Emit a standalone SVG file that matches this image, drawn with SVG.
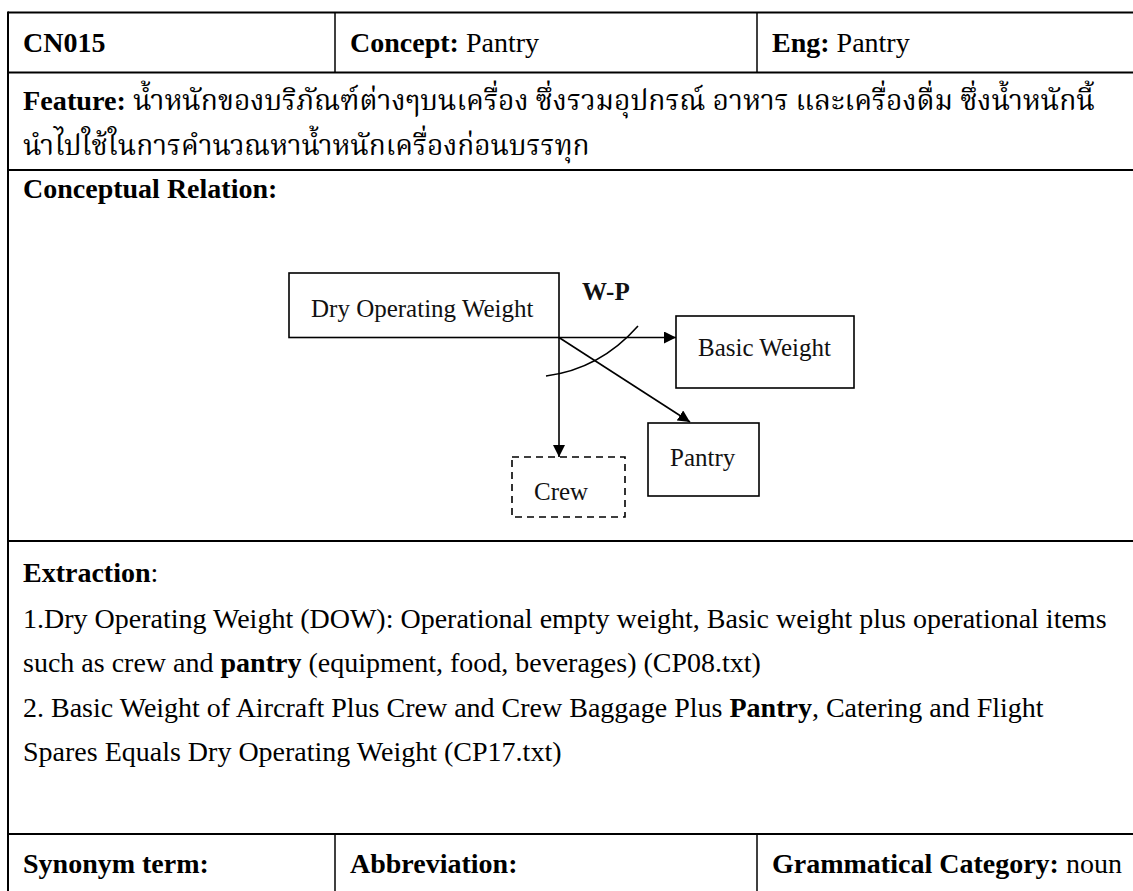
<svg xmlns="http://www.w3.org/2000/svg" width="1133" height="891" viewBox="0 0 1133 891">
  <style>
    .rule { stroke: #000; stroke-width: 2; fill: none; }
    .div { stroke: #000; stroke-width: 1.5; fill: none; }
    .t { font-family: "Liberation Serif", "Times New Roman", serif; font-size: 28px; fill: #000; }
    .th { font-family: "Liberation Serif", "Noto Serif Thai", "Noto Sans Thai", "Tlwg Typo", serif; font-size: 28px; fill: #000; }
    .b { font-weight: bold; }
    .box { fill: #fff; stroke: #000; stroke-width: 1.6; }
    .dash { fill: #fff; stroke: #000; stroke-width: 1.6; stroke-dasharray: 7 5; }
    .lbl { font-family: "Liberation Serif", "Times New Roman", serif; font-size: 25px; fill: #111; }
    .edge { stroke: #000; stroke-width: 1.6; fill: none; }
  </style>
  <defs>
    <marker id="arrow" viewBox="0 0 12 12" refX="12" refY="6" markerWidth="12" markerHeight="12" markerUnits="userSpaceOnUse" orient="auto">
      <path d="M0,0 L12,6 L0,12 Z" fill="#000"/>
    </marker>
  </defs>

  <rect width="1133" height="891" fill="#fff"/>

  <!-- table rules -->
  <g id="table">
    <line class="rule" x1="8" y1="12.5" x2="1133" y2="12.5"/>
    <line class="rule" x1="8" y1="11.5" x2="8" y2="891"/>
    <line class="rule" x1="8" y1="72.5" x2="1133" y2="72.5"/>
    <line class="rule" x1="8" y1="170" x2="1133" y2="170"/>
    <line class="rule" x1="8" y1="541" x2="1133" y2="541"/>
    <line class="rule" x1="8" y1="834" x2="1133" y2="834"/>
    <line class="div" x1="335" y1="12.5" x2="335" y2="72.5"/>
    <line class="div" x1="757" y1="12.5" x2="757" y2="72.5"/>
    <line class="div" x1="335" y1="834" x2="335" y2="891"/>
    <line class="div" x1="757" y1="834" x2="757" y2="891"/>
  </g>

  <!-- header row -->
  <g id="header">
    <text class="t b" x="23" y="52">CN015</text>
    <text class="t" x="350" y="52"><tspan class="b">Concept:</tspan> Pantry</text>
    <text class="t" x="772" y="52"><tspan class="b">Eng:</tspan> Pantry</text>
  </g>

  <!-- feature row -->
  <g id="feature">
    <text class="th" x="23" y="110" textLength="1072" lengthAdjust="spacingAndGlyphs"><tspan class="b">Feature:</tspan> น้ำหนักของบริภัณฑ์ต่างๆบนเครื่อง ซึ่งรวมอุปกรณ์ อาหาร และเครื่องดื่ม ซึ่งน้ำหนักนี้</text>
    <text class="th" x="23" y="155">นำไปใช้ในการคำนวณหาน้ำหนักเครื่องก่อนบรรทุก</text>
  </g>

  <text class="t b" x="23" y="198">Conceptual Relation:</text>

  <!-- relation diagram -->
  <g id="connectors">
    <line class="edge" x1="559" y1="337.5" x2="676" y2="337.5" marker-end="url(#arrow)"/>
    <line class="edge" x1="559" y1="337.5" x2="559" y2="457" marker-end="url(#arrow)"/>
    <line class="edge" x1="559" y1="337.5" x2="690" y2="422" marker-end="url(#arrow)"/>
    <path class="edge" d="M546,376 Q600,369 638,326"/>
  </g>
  <g id="node-dow">
    <rect class="box" x="289" y="273" width="270" height="64.5"/>
    <text class="lbl" x="311" y="317">Dry Operating Weight</text>
  </g>
  <g id="node-basic-weight">
    <rect class="box" x="676" y="316" width="178" height="72"/>
    <text class="lbl" x="698" y="356">Basic Weight</text>
  </g>
  <g id="node-pantry">
    <rect class="box" x="648" y="423" width="111" height="73"/>
    <text class="lbl" x="670" y="466">Pantry</text>
  </g>
  <g id="node-crew">
    <rect class="dash" x="512" y="457" width="113" height="60"/>
    <text class="lbl" x="534" y="500">Crew</text>
  </g>
  <text class="lbl b" x="582" y="300">W-P</text>

  <!-- extraction row -->
  <g id="extraction">
    <text class="t" x="23" y="582"><tspan class="b">Extraction</tspan>:</text>
    <text class="t" x="23" y="628">1.Dry Operating Weight (DOW): Operational empty weight, Basic weight plus operational items</text>
    <text class="t" x="23" y="672">such as crew and <tspan class="b">pantry</tspan> (equipment, food, beverages) (CP08.txt)</text>
    <text class="t" x="23" y="717">2. Basic Weight of Aircraft Plus Crew and Crew Baggage Plus <tspan class="b">Pantry</tspan>, Catering and Flight</text>
    <text class="t" x="23" y="761">Spares Equals Dry Operating Weight (CP17.txt)</text>
  </g>

  <!-- bottom row -->
  <g id="footer">
    <text class="t b" x="23" y="873">Synonym term:</text>
    <text class="t b" x="350" y="873">Abbreviation:</text>
    <text class="t" x="772" y="873"><tspan class="b">Grammatical Category:</tspan> noun</text>
  </g>
</svg>
